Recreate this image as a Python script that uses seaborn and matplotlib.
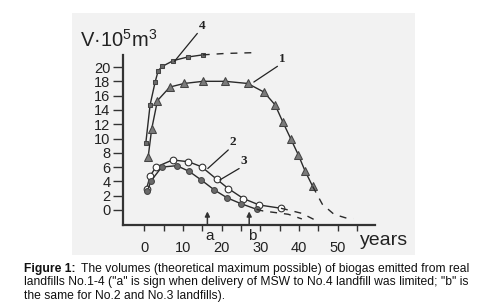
import seaborn as sns
import matplotlib.pyplot as plt
from matplotlib.patches import Rectangle

# landfill No.1 (triangles)
t1 = [1.0, 1.9, 3.4, 6.6, 10.3, 15.2, 20.9, 26.7, 30.9, 33.8, 35.8, 37.8, 39.8, 41.5, 43.5]
v1 = [7.4, 11.3, 15.3, 17.2, 17.7, 18.0, 18.0, 17.7, 16.5, 14.7, 12.3, 10.0, 7.7, 5.5, 3.3]
t1_ext = [43.5, 46.0, 49.0, 52.0, 54.0]
v1_ext = [3.3, 0.8, -0.6, -1.1, -1.2]

# landfill No.2 (open circles)
t2 = [0.6, 1.5, 3.0, 7.3, 11.4, 14.8, 18.7, 21.7, 25.6, 29.7, 35.3]
v2 = [3.0, 4.75, 6.0, 7.0, 6.75, 6.05, 4.3, 3.0, 1.6, 0.7, 0.24]
t2_ext = [35.3, 37.2, 40.7, 44.1]
v2_ext = [0.24, 0.0, -0.47, -1.4]

# landfill No.3 (filled circles)
t3 = [0.8, 1.7, 4.5, 8.4, 11.6, 14.7, 18.1, 21.4, 24.9, 29.0]
v3 = [2.6, 4.05, 6.0, 6.2, 5.4, 4.2, 2.8, 1.7, 0.9, 0.1]
t3_ext = [29.0, 30.7, 37.2, 40.7]
v3_ext = [0.1, -0.14, -0.6, -1.25]

# landfill No.4 (squares)
t4 = [0.4, 1.5, 2.8, 3.6, 4.7, 7.5, 11.2, 15.1]
v4 = [9.4, 14.7, 17.9, 19.5, 20.1, 20.9, 21.4, 21.7]
t4_ext = [15.1, 21.0, 27.8]
v4_ext = [21.7, 21.9, 22.0]

# "a" and "b" marks
mark_t = [16.3, 27.1]
mark_lbl = ['a', 'b']

sns.set_style("ticks")
plt.rcParams['font.family'] = ['Liberation Sans', 'DejaVu Sans']
plt.rcParams['mathtext.default'] = 'regular'

fig = plt.figure(figsize=(4.79, 3.05), dpi=100)
W, H = 479, 305
fig.patches.append(Rectangle((72 / W, 1 - 255 / H), (415 - 72) / W, (255 - 13) / H,
                             transform=fig.transFigure, facecolor='#f2f2f2',
                             edgecolor='none', zorder=-5))

ax = fig.add_axes([123 / W, 1 - 225 / H, (375 - 123) / W, (225 - 42) / H])
ax.patch.set_alpha(0)

dark = '#2a2a2a'
kw = dict(ax=ax, color=dark, linewidth=1.0, legend=False)
sns.lineplot(x=t4, y=v4, marker='s', markersize=3.2, markerfacecolor='#6a6a6a',
             markeredgecolor='#444444', **kw)
sns.lineplot(x=t1, y=v1, marker='^', markersize=5.5, markerfacecolor='#7a7a7a',
             markeredgecolor='#444444', **kw)
sns.lineplot(x=t2, y=v2, marker='o', markersize=4.8, markerfacecolor='white',
             markeredgecolor='#333333', markeredgewidth=0.8, **kw)
sns.lineplot(x=t3, y=v3, marker='o', markersize=4.2, markerfacecolor='#6a6a6a',
             markeredgecolor='#444444', **kw)
for tx, vx in [(t4_ext, v4_ext), (t1_ext, v1_ext), (t2_ext, v2_ext), (t3_ext, v3_ext)]:
    sns.lineplot(x=tx, y=vx, ax=ax, color=dark, linewidth=1.0,
                 linestyle=(0, (5, 5)), legend=False)

ax.set_xlim(-5.5, 59.6)
ax.set_ylim(-2.1, 23.5)
sns.despine(ax=ax)
ax.spines['left'].set_bounds(-2.1, 21.7)
for s in ['left', 'bottom']:
    ax.spines[s].set_linewidth(1.6)
    ax.spines[s].set_color('#333333')

ax.set_yticks(range(0, 21, 2))
ax.set_xticks(range(0, 51, 10))
ax.set_xticks(range(5, 56, 10), minor=True)
ax.tick_params(axis='y', length=7, width=1, pad=2, labelsize=10.5, colors='#333333',
               labelcolor='#222222')
ax.tick_params(axis='x', which='both', length=4.3, width=1, pad=7, labelsize=10.5,
               colors='#333333', labelcolor='#222222')
ax.set_xlabel('')
ax.set_ylabel('')

# arrows a, b
for tm, lb in zip(mark_t, mark_lbl):
    ax.annotate('', xy=(tm, -0.2), xytext=(tm, -2.1),
                arrowprops=dict(arrowstyle='-|>', color='#333333', lw=1.1,
                                mutation_scale=7, shrinkA=0, shrinkB=0),
                annotation_clip=False)
    ax.text(tm + 0.7, -3.7, lb, fontsize=11, ha='center', va='center', color='#222222')

# curve numbers with leader lines
labels = [('4', (7.8, 20.8), (13.7, 24.7)), ('1', (28.3, 17.9), (34.4, 20.1)),
          ('2', (16.4, 5.8), (21.7, 8.4)), ('3', (19.5, 4.2), (24.5, 5.8))]
for num, p0, p1 in labels:
    ax.plot([p0[0], p1[0]], [p0[1], p1[1]], color='#222222', lw=0.9, clip_on=False)
    ax.text(p1[0] + 0.3, p1[1] + 0.25, num, fontsize=9.5, fontweight='bold',
            family=['Liberation Serif', 'DejaVu Serif'], ha='left', va='bottom',
            color='#222222')

fig.text(80 / W, 1 - 47 / H, 'V·10$^5$m$^3$', fontsize=14.5, va='baseline',
         color='#222222')
fig.text(360 / W, 1 - 245 / H, 'years', fontsize=14, va='baseline', color='#222222')

# caption
cap_lines = ['The volumes (theoretical maximum possible) of biogas emitted from real',
             'landfills No.1-4 ("a" is sign when delivery of MSW to No.4 landfill was limited; "b" is',
             'the same for No.2 and No.3 landfills).']
cfs = 8.7
x0 = 24 / W
bold = fig.text(x0, 1 - 272 / H, 'Figure 1:', fontsize=cfs, fontweight='bold',
                va='baseline', color='#111111')
r = fig.canvas.get_renderer()
bw = bold.get_window_extent(r).width / W
fig.text(x0 + bw + 5 / W, 1 - 272 / H, cap_lines[0], fontsize=cfs, va='baseline',
         color='#111111')
fig.text(x0, 1 - 285.5 / H, cap_lines[1], fontsize=cfs, va='baseline', color='#111111')
fig.text(x0, 1 - 298.5 / H, cap_lines[2], fontsize=cfs, va='baseline', color='#111111')

fig.savefig('out.png', dpi=100)
